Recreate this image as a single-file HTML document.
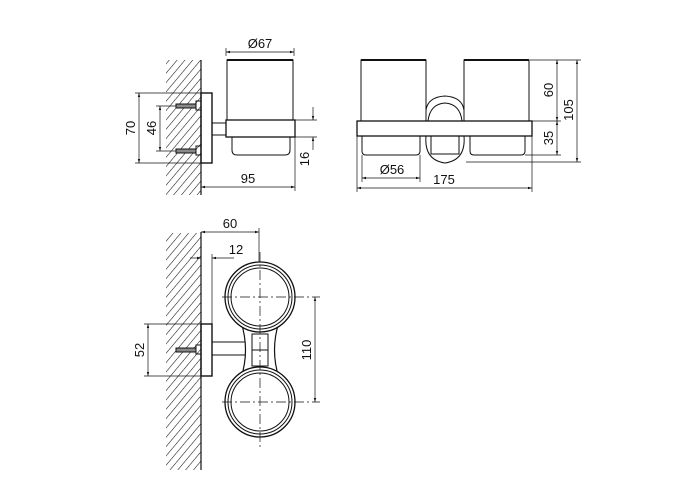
<!DOCTYPE html>
<html><head><style>body{margin:0;background:#fff}svg{display:block}text{font-family:"Liberation Sans",sans-serif;font-size:13px;fill:#111}</style></head><body>
<svg width="700" height="500" viewBox="0 0 700 500" xmlns="http://www.w3.org/2000/svg">
<defs>
<pattern id="h" patternUnits="userSpaceOnUse" width="6" height="6" patternTransform="rotate(40)"><line x1="0" y1="0" x2="0" y2="6" stroke="#111" stroke-width="1.1"/></pattern>
<marker id="a" viewBox="0 0 10 10" refX="10" refY="5" markerWidth="6" markerHeight="6" orient="auto-start-reverse"><path d="M0,2 L10,5 L0,8z" fill="#111"/></marker>
</defs>
<g stroke="#111" fill="none" stroke-width="1">
<rect x="166" y="60" width="35" height="135" fill="url(#h)" stroke="none"/>
<line x1="201" y1="60" x2="201" y2="195" stroke-width="1.2"/>
<rect x="201" y="93" width="11" height="70" stroke-width="1.4"/>
<rect x="176" y="104" width="20" height="4" fill="#888"/><rect x="196" y="101" width="5" height="9"/>
<rect x="176" y="149" width="20" height="4" fill="#888"/><rect x="196" y="146" width="5" height="9"/>
<rect x="212" y="123" width="14" height="12"/>
<rect x="226" y="120" width="69" height="17" stroke-width="1.3"/>
<path d="M227 120 V60 H293 V120" />
<line x1="227" y1="60" x2="293" y2="60" stroke-width="2"/>
<path d="M232 137 V150 Q232 155 237 155 H285 Q290 155 290 150 V137"/>
<g stroke-width="0.7">
<line x1="226" y1="56" x2="226" y2="48"/><line x1="294" y1="56" x2="294" y2="48"/>
<line x1="226" y1="52" x2="294" y2="52" marker-start="url(#a)" marker-end="url(#a)"/>
<line x1="135" y1="93" x2="201" y2="93"/><line x1="135" y1="163" x2="201" y2="163"/>
<line x1="139" y1="93" x2="139" y2="163" marker-start="url(#a)" marker-end="url(#a)"/>
<line x1="156" y1="106" x2="176" y2="106"/><line x1="156" y1="151" x2="176" y2="151"/>
<line x1="160" y1="106" x2="160" y2="151" marker-start="url(#a)" marker-end="url(#a)"/>
<line x1="295" y1="120" x2="317" y2="120"/><line x1="295" y1="137" x2="317" y2="137"/>
<line x1="313" y1="107" x2="313" y2="120" marker-end="url(#a)"/><line x1="313" y1="150" x2="313" y2="137" marker-end="url(#a)"/>
<line x1="295" y1="137" x2="295" y2="191"/>
<line x1="201" y1="187" x2="295" y2="187" marker-start="url(#a)" marker-end="url(#a)"/>
</g>
<path d="M361 121 V60 H426 V121"/><line x1="361" y1="60" x2="426" y2="60" stroke-width="2"/>
<path d="M464 121 V60 H529 V121"/><line x1="464" y1="60" x2="529" y2="60" stroke-width="2"/>
<rect x="357" y="121" width="175" height="15" stroke-width="1.3"/>
<path d="M362 136 V151 Q362 155 366 155 H416 Q420 155 420 151 V136"/>
<path d="M470 136 V151 Q470 155 474 155 H521 Q525 155 525 151 V136"/>
<path d="M426 121 V110 Q428 97 445 96 Q462 97 464 110 V121"/>
<path d="M428 121 Q430 104 445 103 Q460 104 462 121"/>
<path d="M426 136 Q424 160 445 163 Q466 160 464 136"/>
<path d="M431 136 V154 H459 V136"/>
<g stroke-width="0.7">
<line x1="530" y1="60" x2="581" y2="60"/><line x1="532" y1="121" x2="561" y2="121"/>
<line x1="525" y1="155" x2="561" y2="155"/><line x1="466" y1="162" x2="581" y2="162"/>
<line x1="557" y1="60" x2="557" y2="121" marker-start="url(#a)" marker-end="url(#a)"/>
<line x1="557" y1="121" x2="557" y2="155" marker-start="url(#a)" marker-end="url(#a)"/>
<line x1="577" y1="60" x2="577" y2="162" marker-start="url(#a)" marker-end="url(#a)"/>
<line x1="362" y1="155" x2="362" y2="182"/><line x1="420" y1="155" x2="420" y2="182"/>
<line x1="357" y1="136" x2="357" y2="192"/><line x1="532" y1="136" x2="532" y2="192"/>
<line x1="362" y1="178" x2="420" y2="178" marker-start="url(#a)" marker-end="url(#a)"/>
<line x1="357" y1="188" x2="532" y2="188" marker-start="url(#a)" marker-end="url(#a)"/>
</g>
<rect x="166" y="233" width="35" height="237" fill="url(#h)" stroke="none"/>
<line x1="201" y1="232" x2="201" y2="470" stroke-width="1.2"/>
<rect x="201" y="324" width="11" height="52" stroke-width="1.4"/>
<rect x="176" y="348" width="20" height="4" fill="#888"/><rect x="196" y="345" width="5" height="9"/>
<path d="M212 342 H245 M212 355 H245"/>
<path d="M241 322 Q250 350 241 378 M279 322 Q270 350 279 378" stroke-width="1.2"/>
<rect x="252" y="334" width="16" height="32"/><line x1="252" y1="350" x2="268" y2="350"/>
<circle cx="260" cy="297" r="35" stroke-width="1.3" fill="#fff"/><circle cx="260" cy="297" r="32"/><circle cx="260" cy="297" r="29"/>
<circle cx="260" cy="402" r="35" stroke-width="1.3" fill="#fff"/><circle cx="260" cy="402" r="32"/><circle cx="260" cy="402" r="29"/>
<g stroke-width="0.7">
<g stroke-dasharray="10,3,2,3"><line x1="222" y1="297" x2="320" y2="297"/><line x1="222" y1="402" x2="320" y2="402"/><line x1="260" y1="252" x2="260" y2="448"/></g>
<line x1="259" y1="228" x2="259" y2="262"/>
<line x1="201" y1="232" x2="259" y2="232" marker-start="url(#a)" marker-end="url(#a)"/>
<line x1="212" y1="254" x2="212" y2="324"/>
<line x1="190" y1="258" x2="201" y2="258" marker-end="url(#a)"/><line x1="234" y1="258" x2="212" y2="258" marker-end="url(#a)"/>
<line x1="144" y1="324" x2="201" y2="324"/><line x1="144" y1="376" x2="201" y2="376"/>
<line x1="148" y1="324" x2="148" y2="376" marker-start="url(#a)" marker-end="url(#a)"/>
<line x1="315" y1="297" x2="315" y2="402" marker-start="url(#a)" marker-end="url(#a)"/>
</g>
</g>
<text x="260" y="48" text-anchor="middle">Ø67</text>
<text transform="translate(135,128) rotate(-90)" text-anchor="middle">70</text>
<text transform="translate(156,128) rotate(-90)" text-anchor="middle">46</text>
<text transform="translate(309,159) rotate(-90)" text-anchor="middle">16</text>
<text x="248" y="183" text-anchor="middle">95</text>
<text transform="translate(553,90) rotate(-90)" text-anchor="middle">60</text>
<text transform="translate(553,138) rotate(-90)" text-anchor="middle">35</text>
<text transform="translate(573,110) rotate(-90)" text-anchor="middle">105</text>
<text x="392" y="174" text-anchor="middle">Ø56</text>
<text x="444" y="184" text-anchor="middle">175</text>
<text x="230" y="228" text-anchor="middle">60</text>
<text x="236" y="254" text-anchor="middle">12</text>
<text transform="translate(144,350) rotate(-90)" text-anchor="middle">52</text>
<text transform="translate(311,350) rotate(-90)" text-anchor="middle">110</text>
</svg>
</body></html>
